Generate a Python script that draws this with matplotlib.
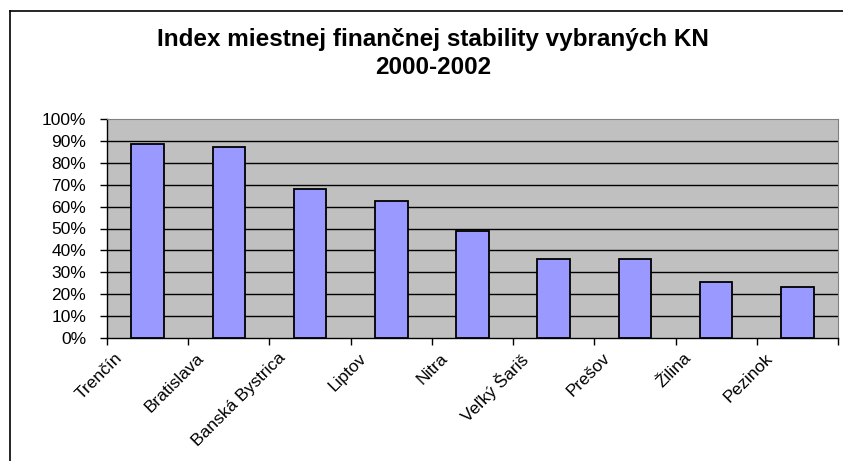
import numpy as np
import matplotlib
matplotlib.use("Agg")
import matplotlib.pyplot as plt
import matplotlib.transforms as mtransforms
from matplotlib.lines import Line2D
from matplotlib.ticker import MultipleLocator, FixedLocator, PercentFormatter

# data
regions = ["Trenčín", "Bratislava", "Banská Bystrica", "Liptov", "Nitra",
           "Veľký Šariš", "Prešov", "Žilina", "Pezinok"]
index_values = [88.4, 87.4, 68.2, 62.6, 48.9, 36.0, 36.0, 25.6, 23.3]
title_lines = ["Index miestnej finančnej stability vybraných KN", "2000-2002"]

plt.rcParams["font.family"] = ["Liberation Sans", "DejaVu Sans"]

W, H = 843, 461
fig = plt.figure(figsize=(W / 100, H / 100), dpi=100)
ax = fig.add_axes([107 / W, 1 - 338 / H, (838 - 107) / W, (338 - 119) / H])

ax.set_facecolor("#C0C0C0")
x = np.arange(len(regions)) + 0.5
ax.bar(x, index_values, width=0.4, color="#9999FF", edgecolor="black",
       linewidth=1.3, zorder=3)

ax.set_xlim(0, len(regions))
ax.set_ylim(0, 100)
ax.yaxis.set_major_locator(MultipleLocator(10))
ax.yaxis.set_major_formatter(PercentFormatter(decimals=0))
for v in range(10, 100, 10):
    ax.axhline(v, color="black", linewidth=1.0, zorder=1)

# ticks on category boundaries, labels at category centres
ax.xaxis.set_major_locator(FixedLocator(np.arange(len(regions) + 1)))
ax.xaxis.set_major_formatter(plt.NullFormatter())
ax.xaxis.set_minor_locator(FixedLocator(x))
ax.tick_params(axis="x", which="major", length=5, width=1, direction="out")
ax.tick_params(axis="x", which="minor", length=0, pad=9)
ax.set_xticks(x, regions, minor=True, rotation=45, ha="right", fontsize=12.5)
shift = mtransforms.ScaledTranslation(-0.22, 0, fig.dpi_scale_trans)
for lbl in ax.get_xticklabels(minor=True):
    lbl.set_transform(lbl.get_transform() + shift)

ax.tick_params(axis="y", length=5, width=1, direction="out", labelsize=12.5, pad=10)

for side in ["left", "bottom"]:
    ax.spines[side].set_color("black")
    ax.spines[side].set_linewidth(1.0)
for side in ["top", "right"]:
    ax.spines[side].set_color("#808080")
    ax.spines[side].set_linewidth(0.8)

fig.text(433 / W, 1 - 39 / H, title_lines[0], ha="center", va="center",
         fontsize=17.5, fontweight="bold")
fig.text(433 / W, 1 - 67 / H, title_lines[1], ha="center", va="center",
         fontsize=17.5, fontweight="bold")

# chart area border (left and top edges visible)
fig.add_artist(Line2D([10 / W, 10 / W], [0, 1 - 11 / H], color="black",
                      linewidth=1.2, transform=fig.transFigure))
fig.add_artist(Line2D([10 / W, 1], [1 - 11 / H, 1 - 11 / H], color="black",
                      linewidth=1.2, transform=fig.transFigure))

fig.savefig("out.png", dpi=100)
